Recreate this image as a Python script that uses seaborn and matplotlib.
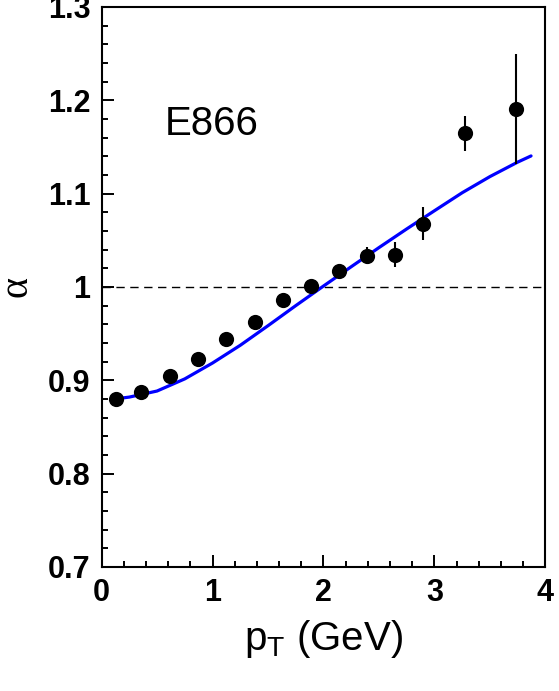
import matplotlib
matplotlib.use("Agg")
import matplotlib.pyplot as plt
import numpy as np
import seaborn as sns
from matplotlib.ticker import MultipleLocator

# E866 data points: alpha vs pT
pt_data = [0.131, 0.353, 0.614, 0.869, 1.125, 1.380, 1.638, 1.887,
           2.143, 2.395, 2.647, 2.899, 3.278, 3.734]
alpha_data = [0.880, 0.8875, 0.905, 0.923, 0.944, 0.963, 0.986, 1.001,
              1.017, 1.0336, 1.0347, 1.068, 1.1647, 1.191]
alpha_err = [0.003, 0.003, 0.003, 0.003, 0.003, 0.004, 0.004, 0.005,
             0.006, 0.0095, 0.013, 0.0175, 0.019, 0.059]

# calculation curve (blue)
pt_curve = [0.131, 0.25, 0.5, 0.75, 1.0, 1.25, 1.5, 1.75, 2.0, 2.25,
            2.5, 2.75, 3.0, 3.25, 3.5, 3.75, 3.87]
alpha_curve = [0.8802, 0.882, 0.8885, 0.9015, 0.9185, 0.9375, 0.9585, 0.980, 1.001, 1.0217,
               1.0422, 1.0622, 1.0817, 1.1010, 1.1183, 1.1338, 1.1404]

x_ticks = [0, 1, 2, 3, 4]
y_ticks = [0.7, 0.8, 0.9, 1.0, 1.1, 1.2, 1.3]
y_ticklabels = ['0.7', '0.8', '0.9', '1', '1.1', '1.2', '1.3']

sns.set_theme(style="ticks")
plt.rcParams['font.family'] = ['Liberation Sans', 'DejaVu Sans']
plt.rcParams.update({'text.color': 'black', 'axes.labelcolor': 'black',
                     'xtick.color': 'black', 'ytick.color': 'black'})

fig = plt.figure(figsize=(5.59, 6.91), dpi=100)
ax = fig.add_axes([0.1816, 0.1795, 0.7942, 0.8104])

# reference line at alpha = 1
ax.axhline(1.0, color='black', lw=1.0, ls=(0, (6, 4)), zorder=1)

sns.lineplot(x=pt_curve, y=alpha_curve, ax=ax, color='#0000ff', lw=2.3,
             sort=False, estimator=None, zorder=2)

ax.errorbar(pt_data, alpha_data, yerr=alpha_err, fmt='none', ecolor='black',
            elinewidth=1.5, capsize=0, zorder=3)
sns.scatterplot(x=pt_data, y=alpha_data, ax=ax, color='black', s=120,
                edgecolor='black', linewidth=0, zorder=4)

ax.set_xlim(0, 4)
ax.set_ylim(0.7, 1.3)
ax.set_xticks(x_ticks)
ax.set_xticklabels([str(v) for v in x_ticks])
ax.set_yticks(y_ticks)
ax.set_yticklabels(y_ticklabels)
ax.xaxis.set_minor_locator(MultipleLocator(0.2))
ax.yaxis.set_minor_locator(MultipleLocator(0.02))

ax.tick_params(which='both', direction='in', top=False, right=False, width=1.4,
               color='black')
ax.tick_params(which='major', length=8.5, labelsize=22, pad=8)
ax.tick_params(which='minor', length=4)
for lab in ax.get_xticklabels() + ax.get_yticklabels():
    lab.set_fontweight('bold')
    lab.set_color('black')
for sp in ax.spines.values():
    sp.set_linewidth(1.5)
    sp.set_color('black')

ax.set_xlabel(r'p$_{\mathregular{T}}$ (GeV)', fontsize=29, labelpad=7)
ax.set_ylabel('α', fontsize=29, family=['Liberation Serif', 'DejaVu Serif'], labelpad=9)

ax.text(0.57, 1.163, 'E866', fontsize=29, ha='left', va='baseline', color='black')

fig.savefig('out.png', dpi=100)
